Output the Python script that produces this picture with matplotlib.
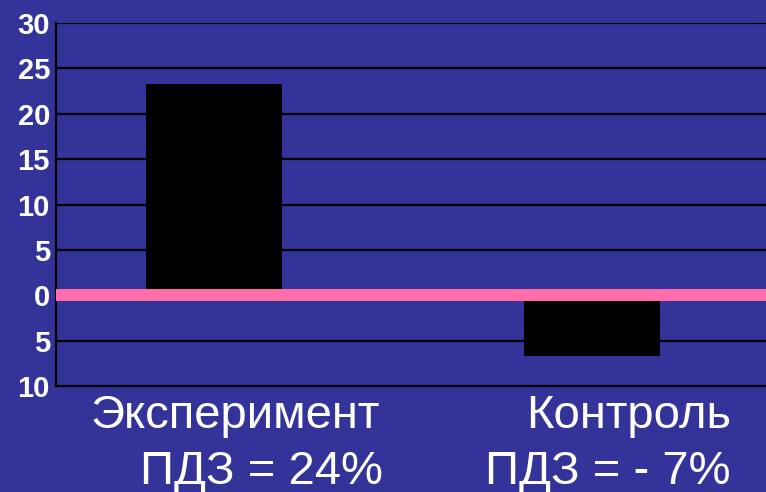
import matplotlib
matplotlib.use("Agg")
import matplotlib.pyplot as plt

categories = ["Эксперимент", "Контроль"]
values = [23.3, -6.7]
sublabels = ["ПДЗ = 24%", "ПДЗ = - 7%"]
yticks = [-10, -5, 0, 5, 10, 15, 20, 25, 30]
ytick_labels = ["10", "5", "0", "5", "10", "15", "20", "25", "30"]

BG = "#333399"
PINK = "#FF6EA8"

plt.rcParams['font.family'] = ['Liberation Sans', 'DejaVu Sans']

fig = plt.figure(figsize=(7.66, 4.92), dpi=100)
fig.patch.set_facecolor(BG)
ax = fig.add_axes([55.5 / 766, 1 - 386 / 492, 1 - 55.5 / 766, (386 - 23) / 492])
ax.set_facecolor(BG)

x = list(range(len(categories)))
ax.bar(x, values, width=0.36, color="black", zorder=3)
ax.axhline(0, color=PINK, linewidth=8.6, zorder=4)

ax.set_ylim(-10, 30)
ax.set_xlim(-0.419, 1.46)
ax.set_yticks(yticks)
ax.set_yticklabels(ytick_labels, fontsize=21, fontweight="bold", color="white")
ax.set_xticks([])
ax.tick_params(axis="y", length=0, pad=4)
for t in yticks:
    if t not in (0, -10):
        ax.axhline(t, color="black", linewidth=1.6, zorder=1)

for s in ["top", "right"]:
    ax.spines[s].set_visible(False)
for s in ["left", "bottom"]:
    ax.spines[s].set_color("black")
    ax.spines[s].set_linewidth(1.6)

# category labels below the axis
label_x_px = [235, 629]
sub_x_px = [261, 607.5]
for i, (c, sl) in enumerate(zip(categories, sublabels)):
    fig.text(label_x_px[i] / 766, 1 - 428 / 492, c, ha="center", va="baseline",
             fontsize=34, color="white")
    fig.text(sub_x_px[i] / 766, 1 - 484 / 492, sl, ha="center", va="baseline",
             fontsize=34, color="white")

fig.savefig("out.png", dpi=100, facecolor=BG)
